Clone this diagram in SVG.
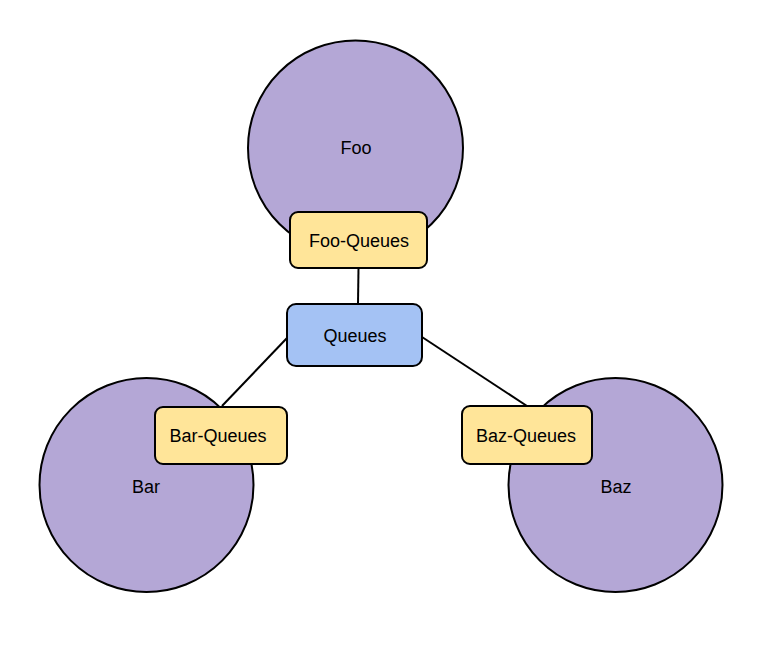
<svg xmlns="http://www.w3.org/2000/svg" width="763" height="652" viewBox="0 0 763 652">
<style>
.circ{fill:#b4a7d6;stroke:#000;stroke-width:2}
.yel{fill:#ffe599;stroke:#000;stroke-width:2}
.blu{fill:#a4c2f4;stroke:#000;stroke-width:2}
.conn line{stroke:#000;stroke-width:2}
text{font-family:"Liberation Sans",Arial,sans-serif;font-size:18px;fill:#000;text-anchor:middle}
</style>
<rect width="763" height="652" fill="#fff"/>
<g id="foo"><circle class="circ" cx="355.5" cy="148" r="107.5"/><text x="356" y="154">Foo</text></g>
<g id="bar"><circle class="circ" cx="146.5" cy="485" r="107"/><text x="146" y="493">Bar</text></g>
<g id="baz"><circle class="circ" cx="615.5" cy="485" r="107"/><text x="616" y="493">Baz</text></g>
<g class="conn" id="connectors">
<line x1="358.5" y1="268" x2="358" y2="304"/>
<line x1="287" y1="338" x2="222" y2="406"/>
<line x1="422" y1="337" x2="527" y2="406"/>
</g>
<g id="foo-queues"><rect class="yel" x="290" y="212" width="137" height="56" rx="8"/><text x="359" y="247">Foo-Queues</text></g>
<g id="queues"><rect class="blu" x="287" y="304" width="135" height="62" rx="9"/><text x="355" y="342">Queues</text></g>
<g id="bar-queues"><rect class="yel" x="155" y="407" width="132" height="57" rx="8"/><text x="218" y="442">Bar-Queues</text></g>
<g id="baz-queues"><rect class="yel" x="462" y="406" width="130" height="58" rx="8"/><text x="526" y="442">Baz-Queues</text></g>
</svg>
